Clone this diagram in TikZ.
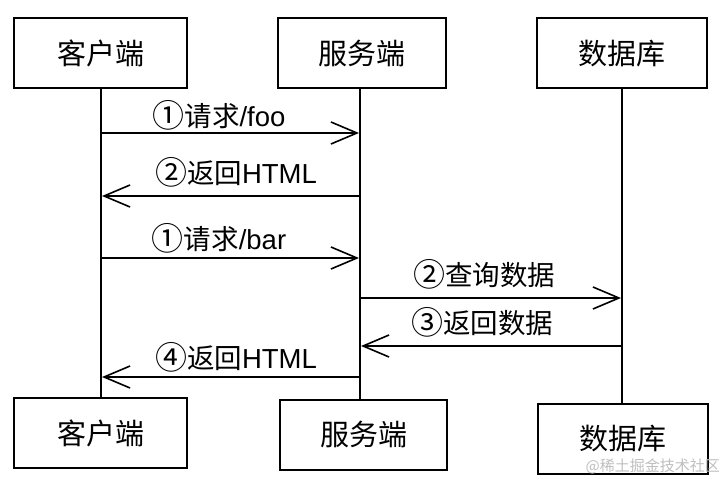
\documentclass[tikz,border=0pt]{standalone}
\usepackage{fontspec}
\setmainfont{Liberation Sans}
\newfontfamily\cjk{Noto Sans CJK SC}
\newcommand\cnum[1]{{\cjk\fontsize{32}{32}\selectfont\raisebox{-1pt}{#1}}}
\usetikzlibrary{arrows.meta}
\begin{document}
\begin{tikzpicture}[x=1pt,y=-1pt,
  box/.style={draw,line width=2pt,minimum width=#1,minimum height=70pt,inner sep=0pt,font=\cjk\fontsize{29}{29}\selectfont},
  life/.style={line width=1.6pt},
  msg/.style={line width=1.6pt,-{Straight Barb[length=26pt,width=22pt,line width=1.6pt]}},
  lbl/.style={inner sep=0pt,font=\fontsize{27.5}{27.5}\selectfont},
  wm/.style={inner sep=0pt,text=black!25,font=\cjk\fontsize{15}{15}\selectfont}]
\useasboundingbox (0,0) rectangle (722,486);
\fill[white] (0,0) rectangle (722,486);
% boxes
\node[box=173pt] (c1t) at (100.5,53.5) {客户端};
\node[box=168pt] (c2t) at (362,53.5) {服务端};
\node[box=170pt] (c3t) at (622,53.5) {数据库};
\node[box=173pt] (c1b) at (100.5,433) {客户端};
\node[box=167pt] (c2b) at (363.5,434.5) {服务端};
\node[box=170pt] (c3b) at (623,438.5) {数据库};
% lifelines
\coordinate (l1t) at (101,88.5);  \coordinate (l1b) at (101,398);
\coordinate (l2t) at (360,88.5);  \coordinate (l2b) at (360,400);
\coordinate (l3t) at (622,88.5);  \coordinate (l3b) at (622,404);
\draw[life] (l1t) -- (l1b);
\draw[life] (l2t) -- (l2b);
\draw[life] (l3t) -- (l3b);
% message endpoints
\coordinate (m1a) at (101,133); \coordinate (m1b) at (359,133);
\coordinate (m2a) at (360,196); \coordinate (m2b) at (102,196);
\coordinate (m3a) at (101,258); \coordinate (m3b) at (359,258);
\coordinate (m4a) at (360,298); \coordinate (m4b) at (621,298);
\coordinate (m5a) at (622,346); \coordinate (m5b) at (361,346);
\coordinate (m6a) at (360,377); \coordinate (m6b) at (102,377);
\draw[msg] (m1a) -- (m1b);
\draw[msg] (m2a) -- (m2b);
\draw[msg] (m3a) -- (m3b);
\draw[msg] (m4a) -- (m4b);
\draw[msg] (m5a) -- (m5b);
\draw[msg] (m6a) -- (m6b);
% labels
\node[lbl] (t1) at (219,115) {\cnum{①}{\cjk 请求}/foo};
\node[lbl] (t2) at (236,172) {\cnum{②}{\cjk 返回}HTML};
\node[lbl] (t3) at (219,238) {\cnum{①}{\cjk 请求}/bar};
\node[lbl] (t4) at (484,274) {\cnum{②}{\cjk 查询数据}};
\node[lbl] (t5) at (482,322) {\cnum{③}{\cjk 返回数据}};
\node[lbl] (t6) at (236,357) {\cnum{④}{\cjk 返回}HTML};
% watermark
\node[wm,anchor=east] (w1) at (720,466) {@稀土掘金技术社区};
\end{tikzpicture}
\end{document}
